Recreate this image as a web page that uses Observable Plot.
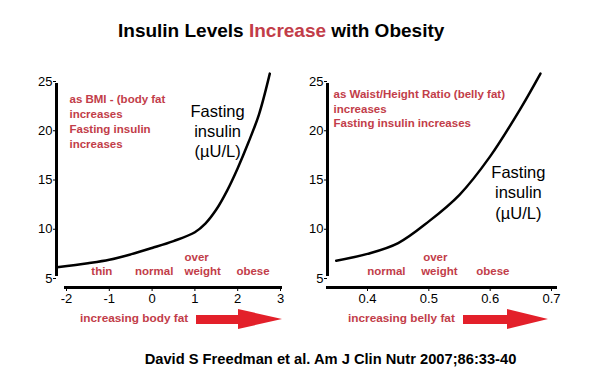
<!DOCTYPE html>
<html><head><meta charset="utf-8">
<script src="https://cdn.jsdelivr.net/npm/d3@7"></script>
<script src="https://cdn.jsdelivr.net/npm/@observablehq/plot@0.6"></script>
<style>
body{margin:0;background:#fff;}
#chart{position:relative;width:606px;height:392px;overflow:hidden;background:#fff;font-family:"Liberation Sans",Arial,sans-serif;}
#left{position:absolute;left:0;top:60px;}
#right{position:absolute;left:300px;top:60px;}
#overlay{position:absolute;left:0;top:0;pointer-events:none;}
</style></head>
<body>
<div id="chart">
  <div id="left"></div>
  <div id="right"></div>
  <svg id="overlay" width="606" height="392" font-family="Liberation Sans, Arial, sans-serif"></svg>
</div>
<script>
// ---- data ----
const bmiZ = [-2.22, -1.5, -1, -0.5, 0, 0.5, 1, 1.25, 1.5, 1.75, 2, 2.25, 2.5, 2.75];
const bmiInsulin = [6.15, 6.55, 6.9, 7.45, 8.1, 8.8, 9.7, 10.6, 12.0, 13.9, 16.2, 18.8, 21.7, 25.8];
const whtr = [0.349, 0.4, 0.45, 0.5, 0.55, 0.6, 0.65, 0.682];
const whtrInsulin = [6.8, 7.5, 8.6, 10.8, 13.5, 17.4, 22.3, 25.8];

const yTicks = [5, 10, 15, 20, 25];
const bmiTicks = [-2, -1, 0, 1, 2, 3];
const whtrTicks = [0.4, 0.5, 0.6, 0.7];

const bmiCategories = ["thin", "normal", "over", "weight", "obese"];
const bmiCategoryX = [-1.42, -0.40, 0.757, 0.757, 1.97];
const bmiCategoryY = [5.71, 5.71, 7.18, 5.71, 5.71];
const whtrCategories = ["normal", "over", "weight", "obese"];
const whtrCategoryX = [0.3995, 0.4908, 0.4875, 0.5772];
const whtrCategoryY = [5.71, 7.18, 5.71, 5.71];

const bmiNote = "as BMI - (body fat\nincreases\nFasting insulin\nincreases";
const whtrNote = "as Waist/Height Ratio (belly fat)\nincreases\nFasting insulin increases";
const yLabel = "Fasting\ninsulin\n(µU/L)";

const titleParts = ["Insulin Levels ", "Increase", " with Obesity"];
const xCaptions = ["increasing body fat", "increasing belly fat"];
const credit = "David S Freedman et al. Am J Clin Nutr 2007;86:33-40";

const RED = "#c23d49";
const ARROW = "#e3202a";
const FONT = "Liberation Sans, Arial, sans-serif";

function panel(opts) {
  const pts = opts.xs.map((x, i) => ({x, y: opts.ys[i]}));
  const cats = opts.cats.map((t, i) => ({t, x: opts.catX[i], y: opts.catY[i]}));
  const [d0, d1] = opts.domain;
  return Plot.plot({
    width: opts.width, height: 250,
    marginTop: 21, marginBottom: 23, marginLeft: opts.marginLeft, marginRight: opts.marginRight,
    x: {domain: opts.domain, insetLeft: opts.insetLeft},
    y: {domain: [5, 25], insetBottom: 9},
    style: {fontFamily: FONT, fontSize: "13px", color: "black", background: "white", overflow: "visible"},
    marks: [
      Plot.ruleY([5], {x1: d0, x2: d1, dy: 9, stroke: "black", strokeWidth: 3,
        insetLeft: opts.axisExtendLeft, insetRight: opts.axisExtendRight}),
      Plot.ruleX([d0], {y1: 5, y2: 25, dx: -opts.insetLeft, stroke: "black", strokeWidth: 3,
        insetTop: -2, insetBottom: -2}),
      Plot.axisX({ticks: opts.ticks, tickSize: 4, tickPadding: 2, label: null, fontSize: 13,
        tickFormat: d => String(d)}),
      Plot.axisY({ticks: yTicks, tickSize: 3, tickPadding: 1, label: null, fontSize: 13,
        tickFormat: d => String(d)}),
      Plot.line(pts, {x: "x", y: "y", curve: "catmull-rom", stroke: "black", strokeWidth: 2.5}),
      Plot.text(cats, {x: "x", y: "y", text: "t", textAnchor: "start", lineAnchor: "middle",
        fill: RED, fontSize: 11.5, fontWeight: "bold"}),
      Plot.text([opts.note], {x: opts.noteX, y: opts.noteY, text: d => d, textAnchor: "start",
        lineAnchor: "middle", lineHeight: opts.noteLH, fill: RED, fontSize: 11.5, fontWeight: "bold"}),
      Plot.text([yLabel], {x: opts.labelX, y: opts.labelY, text: d => d, textAnchor: "middle",
        lineAnchor: "middle", lineHeight: opts.labelLH, fill: "black", fontSize: 16.5})
    ]
  });
}

document.getElementById("left").append(panel({
  width: 300, marginLeft: 56, marginRight: 20, insetLeft: 10, domain: [-2, 3], ticks: bmiTicks,
  axisExtendLeft: -2, axisExtendRight: -2,
  xs: bmiZ, ys: bmiInsulin, cats: bmiCategories, catX: bmiCategoryX, catY: bmiCategoryY,
  note: bmiNote, noteX: -1.93, noteY: 21.04, noteLH: 1.3,
  labelX: 1.53, labelY: 20.03, labelLH: 1.21
}));

document.getElementById("right").append(panel({
  width: 306, marginLeft: 27, marginRight: 55, insetLeft: 40, domain: [0.4, 0.7], ticks: whtrTicks,
  axisExtendLeft: -41, axisExtendRight: -6,
  xs: whtr, ys: whtrInsulin, cats: whtrCategories, catX: whtrCategoryX, catY: whtrCategoryY,
  note: whtrNote, noteX: 0.3446, noteY: 22.29, noteLH: 1.26,
  labelX: 0.646, labelY: 13.83, labelLH: 1.25
}));

// ---- titles, captions, arrows ----
const ov = d3.select("#overlay");
const title = ov.append("text").attr("x", 118).attr("y", 37)
  .attr("font-size", 19).attr("font-weight", "bold").attr("fill", "black");
titleParts.forEach((p, i) => title.append("tspan").attr("fill", i === 1 ? RED : "black").text(p));

const captionX = [80, 348];
const arrowX = [[196, 238, 282], [463, 507, 548]];
xCaptions.forEach((c, i) => {
  ov.append("text").attr("x", captionX[i]).attr("y", 322).attr("font-size", 11.8)
    .attr("font-weight", "bold").attr("fill", RED).text(c);
  const [a, b, t] = arrowX[i];
  ov.append("polygon")
    .attr("points", `${a},315 ${b},315 ${b},309 ${t},319 ${b},329 ${b},324 ${a},324`)
    .attr("fill", ARROW);
});

ov.append("text").attr("x", 330.5).attr("y", 364).attr("text-anchor", "middle")
  .attr("font-size", 14.7).attr("font-weight", "bold").attr("fill", "black").text(credit);
</script>
</body></html>
